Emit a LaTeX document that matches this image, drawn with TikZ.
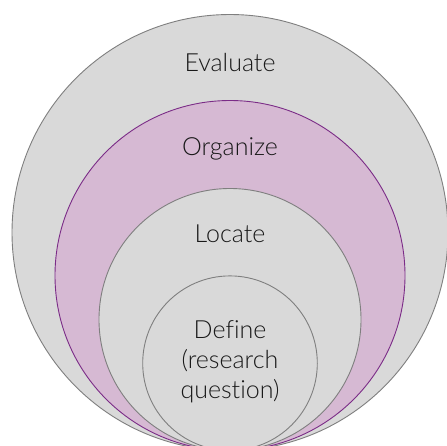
\documentclass[tikz,border=0pt]{standalone}
\usepackage{fontspec}
\setmainfont{Lato}[UprightFont=* Light, Ligatures=NoCommon]
\definecolor{ringgray}{HTML}{D9D9D9}
\definecolor{edgegray}{HTML}{7F7F7F}
\definecolor{ringpurple}{HTML}{D6B9D3}
\definecolor{edgepurple}{HTML}{7B2C87}
\begin{document}
\begin{tikzpicture}[x=1pt,y=1pt,
  ring/.style={circle, minimum size=#1, inner sep=0pt, line width=0.9pt},
  lbl/.style={font=\fontsize{25}{30}\selectfont, text=black!90, align=center}]
\useasboundingbox (0,0) rectangle (447,-445);
\clip (0,0) rectangle (447,-445);
\fill[white] (0,0) rectangle (447,-445);
\node[ring=436, draw=edgegray, fill=ringgray] (evaluate) at (230,-232.5) {};
\node[ring=350, draw=edgepurple, fill=ringpurple] (organize) at (230,-275.5) {};
\node[ring=262, draw=edgegray, fill=ringgray] (locate) at (230,-319.5) {};
\node[ring=174.6, draw=edgegray, fill=ringgray] (define) at (230,-363.2) {};
\node[lbl] (tevaluate) at (230,-63) {Evaluate};
\node[lbl] (torganize) at (230,-149) {Organize};
\node[lbl] (tlocate) at (230,-234) {Locate};
\node[lbl] (tdefine) at (230,-362) {Define\\(research\\question)};
\end{tikzpicture}
\end{document}
